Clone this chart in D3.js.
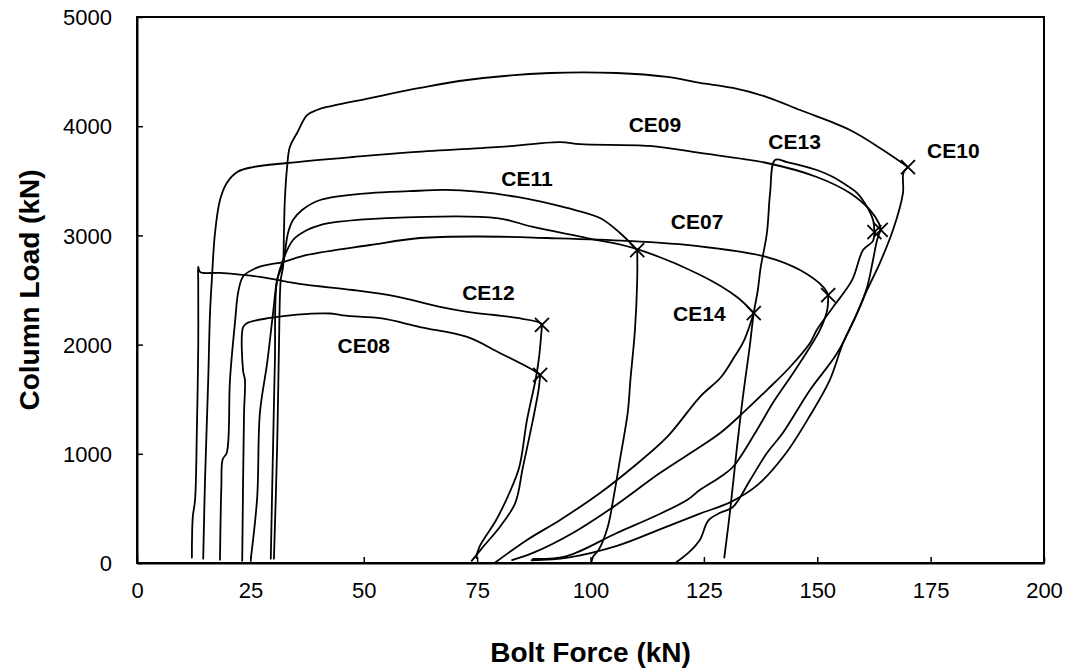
<!DOCTYPE html>
<html>
<head>
<meta charset="utf-8">
<script src="https://cdn.jsdelivr.net/npm/d3@7"></script>
<style>
  html, body { margin: 0; padding: 0; background: #fff; }
  svg { display: block; }
  text { font-family: "Liberation Sans", Arial, sans-serif; fill: #000; }
</style>
</head>
<body>
<svg id="chart" width="1070" height="671"></svg>
<script>
// Axis ticks
const xTicks = [0, 25, 50, 75, 100, 125, 150, 175, 200];
const yTicks = [0, 1000, 2000, 3000, 4000, 5000];

// Specimen names, failure points (bolt force kN, column load kN) and label anchors
const specimens = ["CE07", "CE08", "CE09", "CE10", "CE11", "CE12", "CE13", "CE14"];
const failBolt  = [152.4, 88.9, 164.0, 170.0, 110.3, 89.3, 162.6, 136.0];
const failLoad  = [2454, 1722, 3050, 3626, 2866, 2180, 3030, 2289];
const labelBolt = [123.5, 50.0, 114.2, 180.0, 86.0, 77.5, 145.0, 124.0];
const labelLoad = [3130, 1990, 4010, 3780, 3520, 2480, 3860, 2280];

// Loading branch of each test (ends at failure)
const ce07Up = [[18.3,30],[18.6,700],[18.9,950],[19.8,1010],[20.5,1676],[21.6,2200],[22.4,2500],[23.5,2630],[26.5,2705],[29.3,2735],[32.2,2756],[37.5,2821],[51.4,2912],[62.4,2976],[75,2990],[90.4,2976],[108,2950],[124.1,2900],[138.9,2802],[146.2,2683],[151.5,2520],[152.4,2454]];
const ce08Up = [[23.2,20],[23.4,760],[23.6,1374],[23.8,1676],[23.4,1760],[23.4,2160],[24.3,2198],[29.3,2244],[35.3,2275],[42.6,2285],[46,2265],[54,2240],[62.4,2161],[72.8,2070],[80,1923],[87.3,1767],[88.9,1722]];
const ce09Up = [[14.6,40],[15,760],[15.7,1670],[16.1,2289],[16.5,2592],[17.2,3022],[18.3,3324],[19.8,3480],[22.1,3581],[25.6,3626],[33.1,3663],[47.6,3718],[60,3760],[80,3810],[93.3,3855],[97.7,3835],[113.1,3819],[124.1,3755],[138.9,3663],[149.9,3535],[157.2,3388],[161.6,3233],[163.6,3110],[164.0,3050]];
const ce10Up = [[30.2,40],[30.9,1062],[31.3,1978],[31.7,2592],[32.2,2711],[32.4,3022],[32.6,3324],[33.1,3627],[33.7,3810],[35.3,3938],[37.5,4102],[39.7,4148],[41.9,4176],[51.4,4258],[62.4,4350],[72.8,4423],[91.1,4487],[105.8,4487],[116.9,4451],[124.1,4396],[131.4,4350],[138.9,4267],[146.2,4148],[157.2,3965],[164.5,3782],[170.0,3626]];
const ce11Up = [[29.5,40],[30,1062],[30.4,1832],[30.9,2592],[32.2,2740],[33.3,3022],[34.4,3141],[36.4,3233],[40.4,3324],[51.4,3388],[60,3405],[68,3416],[75,3400],[83.8,3352],[94.8,3251],[102.1,3159],[106.5,3022],[110.3,2866]];
const ce12Up = [[12.1,50],[12.3,420],[12.8,577],[13.2,1218],[13.5,1978],[13.5,2592],[13.5,2711],[13.9,2665],[18.3,2656],[27.1,2620],[33.1,2575],[37.5,2546],[47.6,2500],[57.3,2440],[66.8,2345],[72.8,2300],[83.8,2244],[88.9,2200],[89.3,2180]];
const ce13Up = [[129.5,50],[130.8,485],[132.3,1062],[133.6,1520],[135.1,1978],[136,2289],[136.9,2500],[137.5,2700],[138.9,3022],[139.6,3388],[140.7,3690],[143.3,3672],[149.9,3599],[153.5,3535],[155.7,3480],[158.8,3388],[161,3260],[162.3,3141],[162.6,3030]];
const ce14Up = [[25.1,40],[26.5,600],[27.1,1374],[28.7,1832],[30,2289],[30.9,2592],[32.2,2775],[34.4,2958],[37.5,3049],[40.4,3095],[44.1,3123],[55.1,3159],[79.4,3159],[87.3,3077],[99.2,2976],[109.4,2885],[124.1,2640],[132.3,2436],[136,2289]];

// Post-failure branch of each test (starts at failure, unloads to zero)
const ce07Down = [[152.4,2454],[152.2,2317],[150.6,2134],[148.4,1978],[144.7,1740],[140.2,1465],[136.7,1218],[131.4,879],[128.6,788],[124.1,668],[121.3,577],[113.8,421],[105.8,275],[94.8,64],[87.3,37]];
const ce08Down = [[88.9,1722],[88.6,1600],[87.3,1310],[85.1,879],[83.4,549],[80.0,330],[76.3,147],[73.8,20]];
const ce09Down = [[164.0,3050],[163.2,2958],[162.3,2775],[161,2527],[158.8,2289],[155.7,2015],[152.7,1670],[148.4,1350],[143,1000],[137,720],[131,560],[124,450],[116,320],[106,160],[95,50],[87,25]];
const ce10Down = [[170,3626],[169,3571],[168.9,3388],[166.7,3049],[163.8,2747],[161,2500],[158.8,2289],[154.4,1923],[148.4,1584],[142.4,1190],[138.9,1007],[135.2,760],[131.4,513],[128.6,460],[126,390],[124.1,211],[121.5,90],[119,10]];
const ce13Down = [[162.6,3030],[162.3,2950],[160.1,2866],[157.7,2592],[153.5,2344],[149.9,2134],[148.4,2015],[144,1795],[138.9,1584],[133.6,1374],[128.6,1190],[124.1,1062],[115.3,824],[105,513],[96.1,275],[87.3,92],[82.7,27]];
const ce11Down = [[110.3,2866],[110.3,2592],[109.8,2134],[108.8,1676],[108.2,1374],[106.6,972],[105.1,604],[103.8,330],[101.8,120],[100.6,60],[100.2,5]];
const ce12Down = [[89.3,2180],[88.7,1900],[88.0,1703],[86.0,1310],[84.3,879],[82.1,641],[79.2,394],[75.5,147],[74.8,46]];
const ce14Down = [[136,2289],[133.9,2042],[131.7,1886],[128.8,1703],[124.1,1520],[116.9,1154],[109.4,879],[102.1,641],[93.3,394],[86,211],[79,5]];

const branches = [ce07Up, ce08Up, ce09Up, ce10Up, ce11Up, ce12Up, ce13Up, ce14Up,
                  ce07Down, ce08Down, ce09Down, ce10Down, ce11Down, ce12Down, ce13Down, ce14Down];

// Layout
const margin = { left: 137, right: 1070 - 1044, top: 17, bottom: 671 - 563 };
const width = 1070, height = 671;

const svg = d3.select("#chart");

const x = d3.scaleLinear().domain([0, 200]).range([margin.left, width - margin.right]);
const y = d3.scaleLinear().domain([0, 5000]).range([height - margin.bottom, margin.top]);

// Plot frame
svg.append("rect")
  .attr("x", x(0)).attr("y", y(5000))
  .attr("width", x(200) - x(0)).attr("height", y(0) - y(5000))
  .attr("fill", "none").attr("stroke", "#000").attr("stroke-width", 2);

// Axes with inward ticks
const xAxis = d3.axisBottom(x).tickValues(xTicks).tickFormat(d3.format("d"))
  .tickSizeInner(-6).tickSizeOuter(0).tickPadding(19);
const yAxis = d3.axisLeft(y).tickValues(yTicks).tickFormat(d3.format("d"))
  .tickSizeInner(-6).tickSizeOuter(0).tickPadding(25);

const gx = svg.append("g").attr("transform", `translate(0,${y(0)})`).call(xAxis);
const gy = svg.append("g").attr("transform", `translate(${x(0)},0)`).call(yAxis);
[gx, gy].forEach(g => {
  g.select(".domain").attr("stroke", "#000").attr("stroke-width", 2);
  g.selectAll(".tick line").attr("stroke", "#000").attr("stroke-width", 1.5);
  g.selectAll(".tick text").attr("font-size", 22).attr("font-family", "Liberation Sans, Arial, sans-serif").attr("fill", "#000");
});
gx.selectAll(".tick text").attr("dy", "0.71em");
gy.selectAll(".tick text").attr("dy", "0.35em");

// Axis titles
svg.append("text")
  .attr("x", (x(0) + x(200)) / 2).attr("y", 662)
  .attr("text-anchor", "middle").attr("font-size", 28).attr("font-weight", "bold")
  .text("Bolt Force (kN)");
svg.append("text")
  .attr("transform", `translate(39,${(y(0) + y(5000)) / 2}) rotate(-90)`)
  .attr("text-anchor", "middle").attr("font-size", 28).attr("font-weight", "bold")
  .text("Column Load (kN)");

// Test curves
const line = d3.line()
  .x(d => x(d[0])).y(d => y(d[1]))
  .curve(d3.curveCatmullRom.alpha(0.5));

svg.append("g").selectAll("path")
  .data(branches)
  .join("path")
  .attr("d", line)
  .attr("fill", "none").attr("stroke", "#000").attr("stroke-width", 1.8)
  .attr("stroke-linejoin", "round").attr("stroke-linecap", "round");

// Failure markers
const s = 7;
const marks = svg.append("g").selectAll("g")
  .data(specimens.map((n, i) => [failBolt[i], failLoad[i]]))
  .join("g")
  .attr("transform", d => `translate(${x(d[0])},${y(d[1])})`);
marks.append("path")
  .attr("d", `M${-s},${-s}L${s},${s}M${-s},${s}L${s},${-s}`)
  .attr("stroke", "#000").attr("stroke-width", 1.8);

// Specimen labels
svg.append("g").selectAll("text")
  .data(specimens)
  .join("text")
  .attr("x", (d, i) => x(labelBolt[i]))
  .attr("y", (d, i) => y(labelLoad[i]))
  .attr("text-anchor", "middle").attr("dy", "0.35em")
  .attr("font-size", 21).attr("font-weight", "bold")
  .text(d => d);
</script>
</body>
</html>
